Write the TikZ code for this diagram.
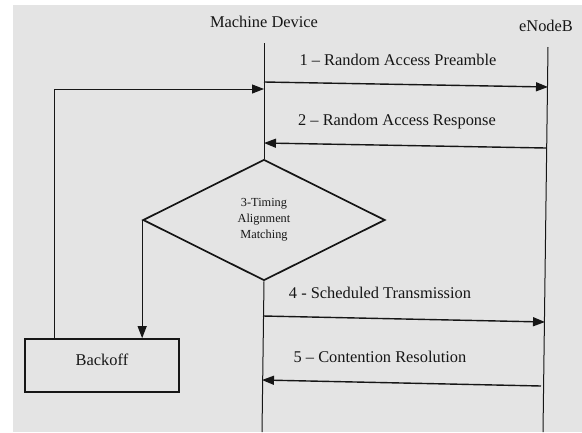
\documentclass[tikz,border=0pt]{standalone}
\usepackage{fontspec}
\setmainfont{Liberation Serif}
\usetikzlibrary{shapes.geometric,arrows.meta}
\definecolor{bg}{RGB}{228,228,228}
\definecolor{ink}{RGB}{22,22,22}
\begin{document}
\begin{tikzpicture}[x=1pt,y=-1pt,
  lbl/.style={font=\fontsize{16.4}{19}\selectfont, text=ink, inner sep=0pt, anchor=base},
  life/.style={draw=ink, line width=1pt},
  msg/.style={draw=ink, line width=1.4pt, -{Triangle[length=12pt,width=9pt]}},
  flow/.style={draw=ink, line width=1pt, -{Triangle[length=12pt,width=9pt]}},
  dec/.style={draw=ink, line width=1.7pt, shape=diamond, aspect=2, minimum width=242pt, minimum height=121pt, inner sep=0pt, align=center, text=ink, font=\fontsize{12.3}{16}\selectfont},
  boxst/.style={draw=ink, line width=1.7pt, minimum width=154pt, minimum height=53pt, inner sep=0pt}
]
\fill[white] (0,0) rectangle (582,432);
\fill[bg] (13,5) rectangle (582,432);
\useasboundingbox (0,0) rectangle (582,432);

% headers
\node[lbl] (md) at (264,27) {Machine Device};
\node[lbl] (enb) at (546,31) {eNodeB};

% lifeline points
\coordinate (mdtop) at (264,43);
\coordinate (mdbot) at (262,432);
\coordinate (enbtop) at (548,47);
\coordinate (enbbot) at (543,432);

% decision and backoff
\node[dec] (tam) at (264,220) {3-Timing\\Alignment\\Matching};
\node[boxst] (bo) at (102,365.5) {};
\node[lbl] (botxt) at (102,365) {Backoff};

\draw[life] (mdtop) -- (tam.north);
\draw[life] (tam.south) -- (mdbot);
\draw[life] (enbtop) -- (enbbot);

% messages
\coordinate (m1s) at (264,82);  \coordinate (m1e) at (548,87);
\coordinate (m2s) at (546,148); \coordinate (m2e) at (264,143);
\coordinate (m4s) at (263,316); \coordinate (m4e) at (545,322);
\coordinate (m5s) at (541,386); \coordinate (m5e) at (262,380);
\draw[msg] (m1s) -- (m1e);
\draw[msg] (m2s) -- (m2e);
\draw[msg] (m4s) -- (m4e);
\draw[msg] (m5s) -- (m5e);

\node[lbl] (l1) at (398,65) {1 – Random Access Preamble};
\node[lbl] (l2) at (397,125) {2 – Random Access Response};
\node[lbl] (l4) at (380,298) {4 - Scheduled Transmission};
\node[lbl] (l5) at (380,362) {5 – Contention Resolution};

% flow connectors
\draw[flow] (tam.west) -- (tam.west |- bo.north);
\coordinate (loopc) at (54,89);
\coordinate (loopt) at (264,89);
\draw[flow] (bo.north -| loopc) -- (loopc) -- (loopt);
\end{tikzpicture}
\end{document}
